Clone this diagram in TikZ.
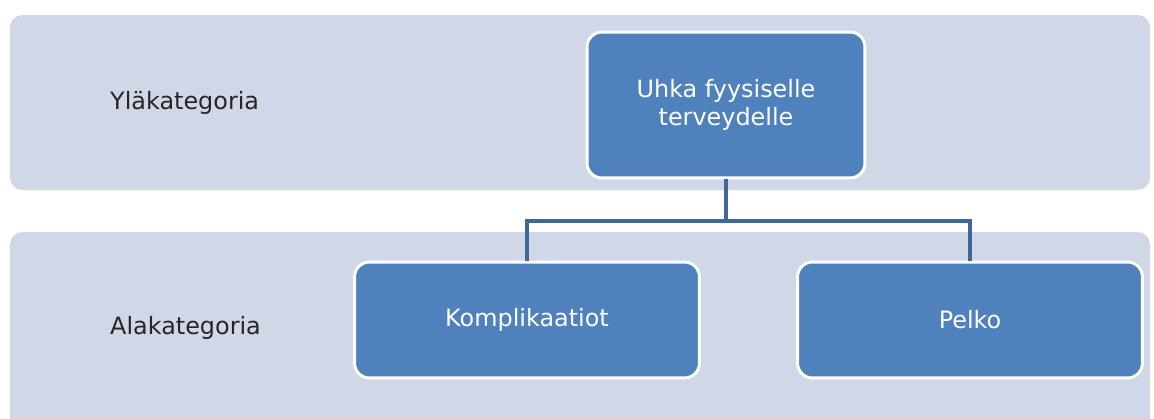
\documentclass[tikz,border=0pt]{standalone}
\usepackage{fontspec}
\setmainfont{DejaVu Sans}
\usetikzlibrary{positioning}
\definecolor{bandfill}{HTML}{D0D7E6}
\definecolor{boxfill}{HTML}{4F81BD}
\definecolor{linkcol}{HTML}{3F6797}
\begin{document}
\begin{tikzpicture}[x=0.02cm, y=-0.02cm]
\path [use as bounding box] (0,0) rectangle (1154,419);
\tikzset{catbox/.style = {rounded corners=0.3cm, fill=boxfill, draw=white, line width=1.7pt, text=white, align=center, font=\fontsize{13.6}{16}\selectfont},
         band/.style = {rounded corners=0.25cm, fill=bandfill},
         level/.style = {anchor=west, text=black!85, font=\fontsize{13.6}{16}\selectfont},
         link/.style = {draw=linkcol, line width=2.2pt}}
% taustakaistat
\begin{scope}
\clip (0,0) rectangle (1154,419);
\path[band] (10,15) rectangle (1150,190);
\path[band] (10,232) rectangle (1150,450);
\end{scope}
\node[level] (ylä) at (104,103) {Yläkategoria};
\node[level] (ala) at (104,328) {Alakategoria};
% laatikot
\node[catbox, minimum width=5.56cm, minimum height=2.92cm] (uhka) at (726,105) {Uhka fyysiselle\\terveydelle};
\node[catbox, minimum width=6.9cm, minimum height=2.32cm] (kompl) at (527,320) {Komplikaatiot};
\node[catbox, minimum width=6.9cm, minimum height=2.32cm] (pelko) at (970,320) {Pelko};
\coordinate (haara) at (726,221);
	\draw[link] (uhka.south) -- (haara) -| (kompl.north);
	\draw[link] (haara) -| (pelko.north);
\end{tikzpicture}
\end{document}
